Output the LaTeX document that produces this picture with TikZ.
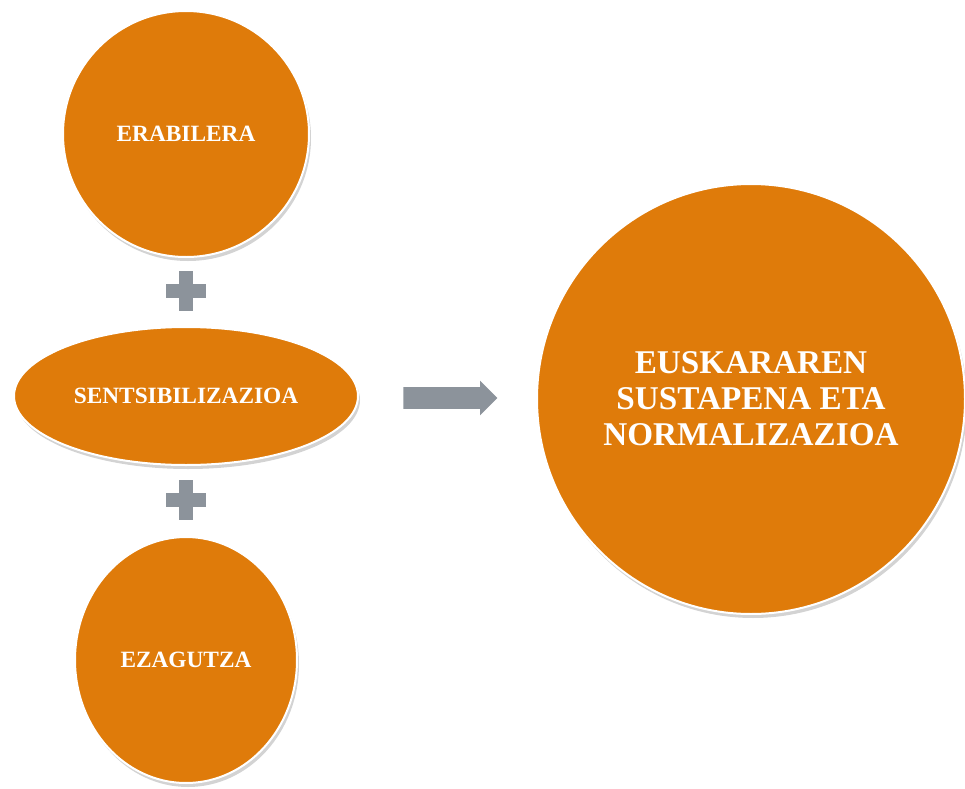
\documentclass[tikz,border=0pt]{standalone}
\usepackage{fontspec}
\setmainfont{Liberation Serif}
\usetikzlibrary{shapes.geometric,shapes.arrows,shadows}
\definecolor{ochre}{HTML}{DF7B0A}
\definecolor{steel}{HTML}{8C939B}
\tikzset{
  blob/.style={ellipse,fill=ochre,draw=white,line width=1.5pt,inner sep=0pt,
    text=white,font=\bfseries\fontsize{17.5}{21}\selectfont,align=center,
    drop shadow={shadow xshift=1.5pt,shadow yshift=-3pt,opacity=0.35}},
  plus/.style={fill=steel}
}
\begin{document}
\begin{tikzpicture}[x=0.75pt,y=-0.75pt]
        \useasboundingbox (0,0) rectangle (965,789);
        \node[blob,minimum width=184.5pt,minimum height=184.5pt] (U) at (186,134) {ERABILERA};
        \node[blob,minimum width=258pt,minimum height=103.5pt] (S) at (186,396) {SENTSIBILIZAZIOA};
        \node[blob,minimum width=166.5pt,minimum height=184.5pt] (K) at (186,660) {EZAGUTZA};
        \node[blob,minimum width=321pt,minimum height=322.5pt,
          font=\bfseries\fontsize{24.9}{27}\selectfont] (N) at (751,399) {EUSKARAREN\\SUSTAPENA ETA\\NORMALIZAZIOA};
        
        % plus signs between the circles
        \foreach \y in {291,500} {
          \fill[plus] (166,\y-7) rectangle (206,\y+7);
          \fill[plus] (179,\y-20) rectangle (193,\y+20);
        }
        
        \node[single arrow,fill=steel,inner sep=7.9pt,minimum height=70.5pt,
          single arrow head extend=4.9pt] (A) at (445,398) {};
      \end{tikzpicture}
\end{document}
